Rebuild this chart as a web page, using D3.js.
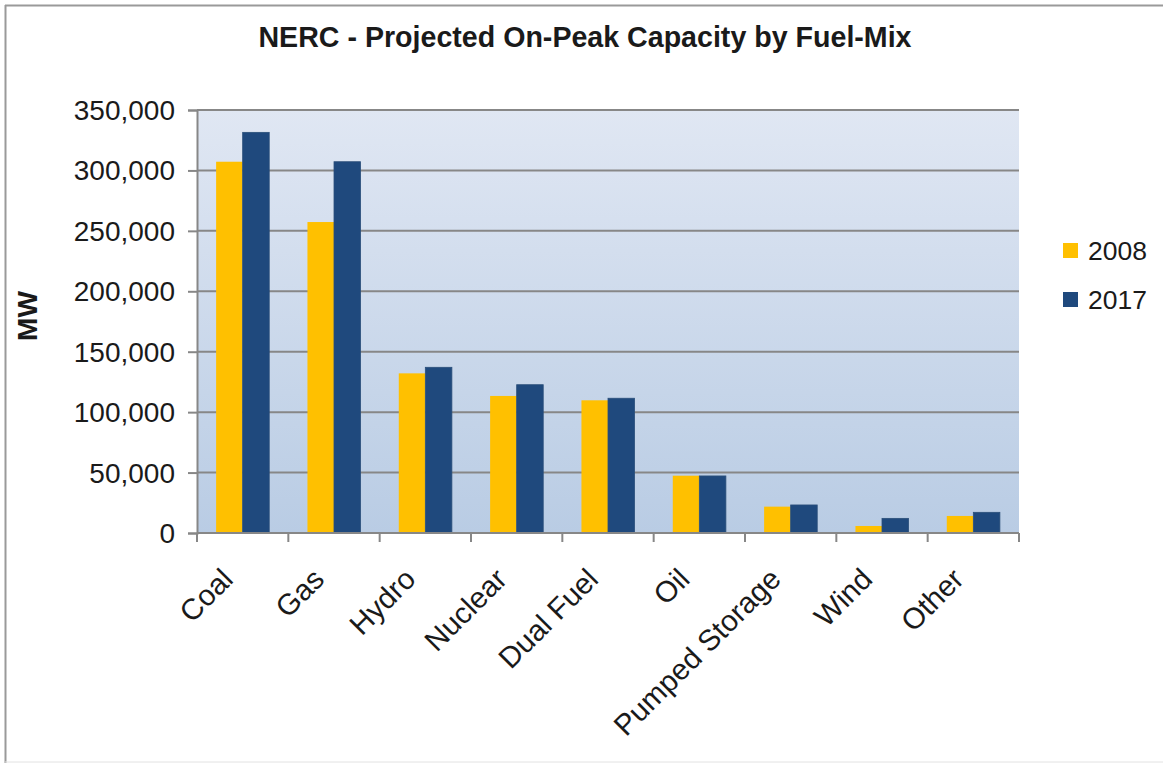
<!DOCTYPE html>
<html>
<head>
<meta charset="utf-8">
<script src="https://cdn.jsdelivr.net/npm/d3@7"></script>
<style>
  html, body { margin: 0; padding: 0; background: #ffffff; }
  svg { display: block; }
  text { font-family: Arial, "Liberation Sans", sans-serif; fill: #1a1a1a; }
</style>
</head>
<body>
<svg id="chart" width="1163" height="763"></svg>
<script>
// Projected on-peak capacity (MW) by fuel type
const categories = ["Coal", "Gas", "Hydro", "Nuclear", "Dual Fuel", "Oil", "Pumped Storage", "Wind", "Other"];
const seriesNames = ["2008", "2017"];
const values2008 = [307200, 257300, 132100, 113400, 109800, 47400, 21800, 5800, 14100];
const values2017 = [331500, 307200, 137100, 122700, 111500, 47200, 23200, 12100, 17100];
const yTicks = [0, 50000, 100000, 150000, 200000, 250000, 300000, 350000];
const seriesColors = ["#FFC000", "#1F497D"];
const titleText = "NERC - Projected On-Peak Capacity by Fuel-Mix";
const yAxisTitle = "MW";

const svg = d3.select("#chart");
const W = 1163, H = 763;
const plot = { left: 197, right: 1019, top: 110, bottom: 533 };

// Outer frame
svg.append("line").attr("x1", 5.5).attr("y1", 5).attr("x2", 5.5).attr("y2", H)
  .attr("stroke", "#9a9a9a").attr("stroke-width", 2);
svg.append("line").attr("x1", 5).attr("y1", 5.5).attr("x2", W).attr("y2", 5.5)
  .attr("stroke", "#9a9a9a").attr("stroke-width", 2);
svg.append("line").attr("x1", 5).attr("y1", 762).attr("x2", W).attr("y2", 762)
  .attr("stroke", "#e2e2e2").attr("stroke-width", 1);

// Plot area gradient
const defs = svg.append("defs");
const grad = defs.append("linearGradient").attr("id", "plotBg")
  .attr("x1", 0).attr("y1", 0).attr("x2", 0).attr("y2", 1);
grad.append("stop").attr("offset", "0%").attr("stop-color", "#e0e7f3");
grad.append("stop").attr("offset", "100%").attr("stop-color", "#b9cce4");

svg.append("rect")
  .attr("x", plot.left).attr("y", plot.top)
  .attr("width", plot.right - plot.left).attr("height", plot.bottom - plot.top)
  .attr("fill", "url(#plotBg)");

// Scales
const x0 = d3.scaleBand().domain(categories).range([plot.left, plot.right]).paddingInner(0).paddingOuter(0);
const x1 = d3.scaleBand().domain(seriesNames).range([0, x0.bandwidth()]).paddingInner(0).paddingOuter(0.72);
const y = d3.scaleLinear().domain([0, 350000]).range([plot.bottom, plot.top]);

// Gridlines
svg.append("g").selectAll("line").data(yTicks.filter(d => d > 0)).join("line")
  .attr("x1", plot.left).attr("x2", plot.right)
  .attr("y1", d => y(d)).attr("y2", d => y(d))
  .attr("stroke", "#878787").attr("stroke-width", 2);

// Bars
const rows = categories.map((c, i) => ({ cat: c, vals: [values2008[i], values2017[i]] }));
const groups = svg.append("g").selectAll("g").data(rows).join("g")
  .attr("transform", d => `translate(${x0(d.cat)},0)`);
groups.selectAll("rect").data(d => d.vals.map((v, j) => ({ key: seriesNames[j], v, j }))).join("rect")
  .attr("x", d => x1(d.key))
  .attr("y", d => y(d.v))
  .attr("width", x1.bandwidth())
  .attr("height", d => y(0) - y(d.v))
  .attr("fill", d => seriesColors[d.j])
  .attr("stroke", d => d.j === 1 ? "#2b4f7a" : "none")
  .attr("stroke-width", 0.8);

// Y axis
const yAxis = svg.append("g").attr("transform", `translate(${plot.left},0)`)
  .call(d3.axisLeft(y).tickValues(yTicks).tickFormat(d3.format(",")).tickSize(9).tickPadding(13));
yAxis.select(".domain").attr("stroke", "#878787").attr("stroke-width", 2);
yAxis.selectAll(".tick line").attr("stroke", "#878787").attr("stroke-width", 2);
yAxis.selectAll(".tick text")
  .attr("font-family", "Arial, 'Liberation Sans', sans-serif")
  .attr("font-size", 28).attr("fill", "#1a1a1a").attr("dy", "0.34em");

// X axis (ticks at band boundaries)
const xb = svg.append("g");
xb.append("line").attr("x1", plot.left).attr("x2", plot.right)
  .attr("y1", plot.bottom).attr("y2", plot.bottom)
  .attr("stroke", "#878787").attr("stroke-width", 2);
const boundaries = categories.map(c => x0(c)).concat([x0(categories[categories.length - 1]) + x0.bandwidth()]);
xb.selectAll("line.tk").data(boundaries).join("line").attr("class", "tk")
  .attr("x1", d => d).attr("x2", d => d)
  .attr("y1", plot.bottom).attr("y2", plot.bottom + 9)
  .attr("stroke", "#878787").attr("stroke-width", 2);

// Category labels, rotated
xb.selectAll("text").data(categories).join("text")
  .attr("transform", d => `translate(${x0(d) + x0.bandwidth() / 2 - 8},581) rotate(-45)`)
  .attr("text-anchor", "end")
  .attr("font-size", 29.5)
  .text(d => d);

// Title
svg.append("text").attr("x", 585).attr("y", 47).attr("text-anchor", "middle")
  .attr("font-size", 28.6).attr("font-weight", "bold").text(titleText);

// Y axis title
svg.append("text").attr("transform", "translate(37,316) rotate(-90)")
  .attr("text-anchor", "middle").attr("font-size", 28).attr("font-weight", "bold")
  .text(yAxisTitle);

// Legend
const legend = svg.append("g").selectAll("g").data(seriesNames).join("g")
  .attr("transform", (d, i) => `translate(1063,${243 + i * 49})`);
legend.append("rect").attr("width", 15).attr("height", 15)
  .attr("fill", (d, i) => seriesColors[i]);
legend.append("text").attr("x", 25).attr("y", 17).attr("font-size", 26.5).text(d => d);
</script>
</body>
</html>
